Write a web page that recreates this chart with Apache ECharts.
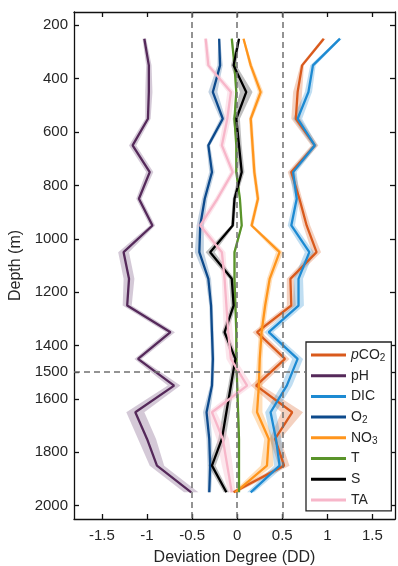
<!DOCTYPE html>
<html>
<head>
<meta charset="utf-8">
<script src="https://cdn.jsdelivr.net/npm/echarts@6/dist/echarts.min.js"></script>
<style>
  html, body { margin: 0; padding: 0; background: #fff; }
  #chart { width: 398px; height: 566px; }
</style>
</head>
<body>
<div id="chart"></div>
<script>
// depth levels (m)
const depths = [250, 350, 450, 550, 650, 750, 850, 950, 1050, 1150, 1250, 1350, 1450, 1550, 1650, 1750, 1850, 1950];

// deviation degree per variable
const pCO2 = [0.96, 0.72, 0.67, 0.65, 0.86, 0.60, 0.69, 0.77, 0.88, 0.59, 0.60, 0.22, 0.53, 0.21, 0.61, 0.42, 0.52, -0.04];
const pH   = [-1.03, -0.98, -0.98, -0.99, -1.16, -0.97, -1.09, -0.94, -1.26, -1.20, -1.22, -0.74, -1.10, -0.70, -1.13, -1.00, -0.89, -0.51];
const DIC  = [1.14, 0.84, 0.79, 0.67, 0.86, 0.62, 0.66, 0.60, 0.80, 0.68, 0.68, 0.35, 0.67, 0.55, 0.37, 0.43, 0.47, 0.15];
const O2   = [-0.20, -0.19, -0.27, -0.16, -0.32, -0.28, -0.36, -0.41, -0.42, -0.32, -0.29, -0.28, -0.27, -0.28, -0.34, -0.31, -0.30, -0.31];
const NO3  = [0.07, 0.15, 0.26, 0.15, 0.17, 0.19, 0.23, 0.16, 0.47, 0.36, 0.31, 0.27, 0.25, 0.24, 0.22, 0.35, 0.33, -0.02];
const T    = [-0.06, -0.03, -0.01, -0.03, -0.01, -0.01, 0.03, 0.05, -0.03, -0.03, -0.02, -0.01, -0.01, 0.00, 0.01, 0.02, 0.02, 0.02];
const S    = [0.02, -0.04, 0.10, -0.01, 0.02, 0.05, -0.03, -0.05, -0.30, -0.06, -0.04, -0.14, -0.02, -0.07, -0.12, -0.17, -0.28, -0.12];
const TA   = [-0.35, -0.32, -0.07, -0.11, -0.17, -0.05, -0.22, -0.41, -0.17, -0.14, -0.12, -0.10, -0.07, 0.11, -0.28, -0.16, -0.11, -0.06];

// half width of the shaded uncertainty band
const pCO2Band = [0.02, 0.02, 0.05, 0.05, 0.04, 0.04, 0.03, 0.04, 0.05, 0.04, 0.05, 0.05, 0.05, 0.06, 0.12, 0.06, 0.06, 0.04];
const pHBand   = [0.02, 0.03, 0.04, 0.03, 0.04, 0.04, 0.03, 0.03, 0.06, 0.06, 0.05, 0.05, 0.04, 0.07, 0.10, 0.10, 0.08, 0.08];
const DICBand  = [0.02, 0.03, 0.04, 0.05, 0.03, 0.04, 0.03, 0.04, 0.05, 0.05, 0.06, 0.05, 0.06, 0.06, 0.06, 0.06, 0.06, 0.04];
const O2Band   = [0.01, 0.03, 0.05, 0.03, 0.02, 0.03, 0.03, 0.04, 0.05, 0.03, 0.02, 0.02, 0.02, 0.02, 0.04, 0.03, 0.03, 0.02];
const NO3Band  = [0.01, 0.02, 0.03, 0.02, 0.02, 0.02, 0.02, 0.02, 0.04, 0.03, 0.03, 0.03, 0.03, 0.04, 0.06, 0.05, 0.07, 0.03];
const TBand    = [0.01, 0.01, 0.01, 0.01, 0.01, 0.01, 0.01, 0.01, 0.01, 0.01, 0.01, 0.01, 0.01, 0.01, 0.01, 0.01, 0.01, 0.01];
const SBand    = [0.01, 0.03, 0.07, 0.04, 0.03, 0.03, 0.02, 0.02, 0.05, 0.03, 0.03, 0.03, 0.03, 0.03, 0.04, 0.04, 0.04, 0.03];
const TABand   = [0.02, 0.03, 0.04, 0.04, 0.03, 0.03, 0.03, 0.04, 0.04, 0.03, 0.04, 0.05, 0.05, 0.06, 0.05, 0.07, 0.06, 0.04];

const names = ['pCO2', 'pH', 'DIC', 'O2', 'NO3', 'T', 'S', 'TA'];
const xTicks = [-1.5, -1, -0.5, 0, 0.5, 1, 1.5];
const yTicks = [200, 400, 600, 800, 1000, 1200, 1400, 1500, 1600, 1800, 2000];
const refLinesX = [-0.5, 0, 0.5];
const refLineY = 1500;
const refLineYEnd = 0.76;   // the 1500 m line stops at the legend box

const values = { pCO2, pH, DIC, O2, NO3, T, S, TA };
const bands = { pCO2: pCO2Band, pH: pHBand, DIC: DICBand, O2: O2Band, NO3: NO3Band, T: TBand, S: SBand, TA: TABand };
const colors = {
  pCO2: '#d95a1c', pH: '#55295a', DIC: '#1d8ad2', O2: '#0d4a8c',
  NO3: '#ff951c', T: '#5a942a', S: '#000000', TA: '#f7b6c9'
};
const bandColors = {
  pCO2: 'rgba(217,90,28,0.28)', pH: 'rgba(100,60,110,0.28)', DIC: 'rgba(29,138,210,0.28)', O2: 'rgba(13,74,140,0.25)',
  NO3: 'rgba(255,149,28,0.3)', T: 'rgba(90,148,42,0.25)', S: 'rgba(0,0,0,0.25)', TA: 'rgba(247,182,201,0.35)'
};
const legendLabels = {
  pCO2: '{it|p}CO{sub|2}', pH: 'pH', DIC: 'DIC', O2: 'O{sub|2}',
  NO3: 'NO{sub|3}', T: 'T', S: 'S', TA: 'TA'
};

const font = 'Liberation Sans, Arial, sans-serif';
const textColor = '#262626';
const xMin = -1.81, xMax = 1.75, yMin = 150, yMax = 2050;

const chart = echarts.init(document.getElementById('chart'));

const bandSeries = names.map(n => ({
  type: 'custom',
  name: n + ' band',
  silent: true,
  z: 1,
  data: depths.map((d, i) => [values[n][i] - bands[n][i], values[n][i] + bands[n][i], d]),
  encode: { x: [0, 1], y: 2 },
  renderItem: (params, api) => {
    if (params.dataIndex !== 0) return;
    const pts = [];
    depths.forEach((d, i) => pts.push(api.coord([values[n][i] - bands[n][i], d])));
    for (let i = depths.length - 1; i >= 0; i--) {
      pts.push(api.coord([values[n][i] + bands[n][i], depths[i]]));
    }
    return {
      type: 'polygon',
      shape: { points: pts },
      style: { fill: bandColors[n] }
    };
  }
}));

const lineSeries = names.map(n => ({
  type: 'line',
  name: n,
  z: 3,
  showSymbol: false,
  silent: true,
  data: depths.map((d, i) => [values[n][i], d]),
  lineStyle: { color: colors[n], width: 2.3 },
  itemStyle: { color: colors[n] }
}));

// dashed reference lines
lineSeries[0].markLine = {
  silent: true,
  symbol: 'none',
  label: { show: false },
  lineStyle: { color: '#707070', type: [6, 4], width: 1.5 },
  data: refLinesX.map(v => ({ xAxis: v })).concat([
    [{ coord: [xMin, refLineY] }, { coord: [refLineYEnd, refLineY] }]
  ])
};

const axisLine = { show: true, onZero: false, lineStyle: { color: '#111', width: 1.3 } };
const tick = { show: true, inside: true, length: 5, lineStyle: { color: '#111', width: 1.3 } };

const option = {
  backgroundColor: '#fff',
  animation: false,
  textStyle: { fontFamily: font },
  grid: { left: 74, right: 3, top: 12, bottom: 47, containLabel: false, outerBoundsMode: 'none' },
  xAxis: [
    {
      type: 'value', min: xMin, max: xMax, position: 'bottom',
      name: 'Deviation Degree (DD)', nameLocation: 'middle', nameGap: 31,
      nameTextStyle: { fontSize: 16, color: textColor, fontFamily: font },
      axisLine, axisTick: { ...tick, customValues: xTicks },
      axisLabel: { customValues: xTicks, fontSize: 15, color: textColor, margin: 9, fontFamily: font },
      splitLine: { show: false }
    },
    {
      type: 'value', min: xMin, max: xMax, position: 'top',
      axisLine, axisTick: { ...tick, customValues: xTicks },
      axisLabel: { show: false }, splitLine: { show: false }
    }
  ],
  yAxis: [
    {
      type: 'value', inverse: true, min: yMin, max: yMax, position: 'left',
      name: 'Depth (m)', nameLocation: 'middle', nameGap: 36,
      nameTextStyle: { fontSize: 16, color: textColor, fontFamily: font },
      axisLine, axisTick: { ...tick, customValues: yTicks },
      axisLabel: {
        customValues: yTicks, fontSize: 15, color: textColor, margin: 6, fontFamily: font,
        formatter: v => String(v)
      },
      splitLine: { show: false }
    },
    {
      type: 'value', inverse: true, min: yMin, max: yMax, position: 'right',
      axisLine, axisTick: { ...tick, customValues: yTicks },
      axisLabel: { show: false }, splitLine: { show: false }
    }
  ],
  legend: {
    orient: 'vertical',
    left: 306, top: 342,
    padding: [5, 6, 3, 5],
    itemGap: 4.7,
    itemWidth: 35,
    itemHeight: 3,
    icon: 'rect',
    backgroundColor: '#fff',
    borderColor: '#222',
    borderWidth: 1.3,
    borderRadius: 0,
    data: names,
    formatter: n => legendLabels[n],
    textStyle: {
      fontSize: 14, color: textColor, fontFamily: font, lineHeight: 16,
      rich: {
        it: { fontStyle: 'italic', fontSize: 14, lineHeight: 16, fontFamily: font, color: textColor },
        sub: { fontSize: 10, lineHeight: 10, verticalAlign: 'bottom', fontFamily: font, color: textColor }
      }
    }
  },
  series: bandSeries.concat(lineSeries)
};

chart.setOption(option);
</script>
</body>
</html>
